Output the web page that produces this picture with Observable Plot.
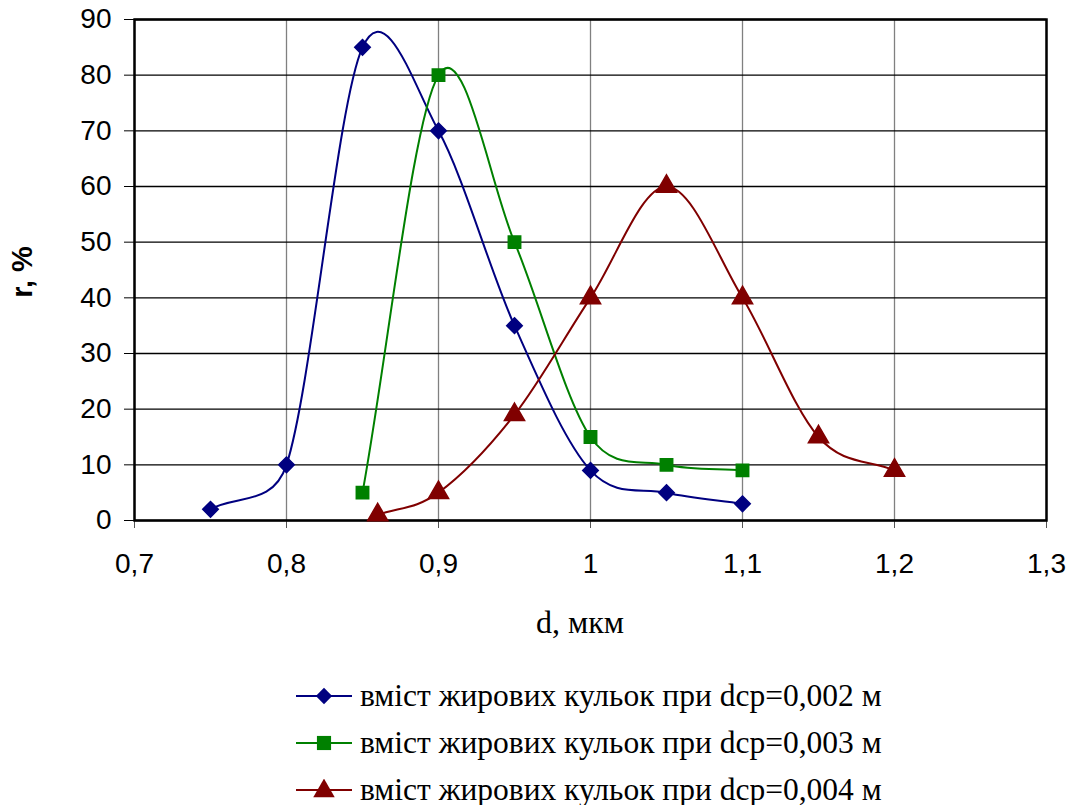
<!DOCTYPE html>
<html>
<head>
<meta charset="utf-8">
<script src="https://cdn.jsdelivr.net/npm/d3@7"></script>
<script src="https://cdn.jsdelivr.net/npm/@observablehq/plot@0.6"></script>
<style>
  body { margin: 0; background: #fff; }
  #chart { width: 1070px; }
  .legend { margin-left: 296px; margin-top: 12px; font-family: "Liberation Serif", "Times New Roman", serif; font-size: 31.5px; color: #000; }
  .legend .row { display: flex; align-items: center; height: 47px; line-height: 47px; white-space: nowrap; }
  .legend svg { margin-right: 8px; flex: none; }
</style>
</head>
<body>
<div id="chart"></div>
<script>
const xValuesBlue = [0.75, 0.8, 0.85, 0.9, 0.95, 1.0, 1.05, 1.1];
const yValuesBlue = [2, 10, 85, 70, 35, 9, 5, 3];
const xValuesGreen = [0.85, 0.9, 0.95, 1.0, 1.05, 1.1];
const yValuesGreen = [5, 80, 50, 15, 10, 9];
const xValuesRed = [0.86, 0.9, 0.95, 1.0, 1.05, 1.1, 1.15, 1.2];
const yValuesRed = [1, 5, 19, 40, 60, 40, 15, 9];
const seriesNames = [
  "вміст жирових кульок при dср=0,002 м",
  "вміст жирових кульок при dср=0,003 м",
  "вміст жирових кульок при dср=0,004 м"
];
const seriesColors = ["#000080", "#008000", "#800000"];
const seriesSymbols = ["diamond2", "square", "triangle"];
const xTicks = [0.7, 0.8, 0.9, 1.0, 1.1, 1.2, 1.3];
const yTicks = [0, 10, 20, 30, 40, 50, 60, 70, 80, 90];
const xLabel = "d, мкм";
const yLabel = "r, %";

const toRows = (xs, ys, s) => xs.map((x, i) => ({x, y: ys[i], s}));
const series = [
  toRows(xValuesBlue, yValuesBlue, 0),
  toRows(xValuesGreen, yValuesGreen, 1),
  toRows(xValuesRed, yValuesRed, 2)
];

const fmt = d => String(+d.toFixed(1)).replace(".", ",");

// Spreadsheet-style smoothed line (Bezier with limited control-point length)
function SmoothCurve(context) { this._context = context; }
SmoothCurve.prototype = {
  areaStart() {}, areaEnd() {},
  lineStart() { this._pts = []; },
  point(x, y) { this._pts.push([+x, +y]); },
  lineEnd() {
    const p = this._pts, n = p.length, c = this._context;
    if (!n) return;
    c.moveTo(p[0][0], p[0][1]);
    if (n === 1) return;
    const dist = (a, b) => Math.hypot(a[0] - b[0], a[1] - b[1]);
    for (let i = 0; i < n - 1; i++) {
      const p0 = p[Math.max(0, i - 1)], p1 = p[i], p2 = p[i + 1], p3 = p[Math.min(n - 1, i + 2)];
      const d12 = dist(p1, p2), d02 = dist(p0, p2), d13 = dist(p1, p3);
      let f1 = (i === 0) ? 1 / 3 : 1 / 6;
      if (d02 * f1 > d12 / 2) f1 = d12 / 2 / d02;
      let f2 = (i === n - 2) ? 1 / 3 : 1 / 6;
      if (d13 * f2 > d12 / 2) f2 = d12 / 2 / d13;
      const c1 = [p1[0] + (p2[0] - p0[0]) * f1, p1[1] + (p2[1] - p0[1]) * f1];
      const c2 = [p2[0] - (p3[0] - p1[0]) * f2, p2[1] - (p3[1] - p1[1]) * f2];
      c.bezierCurveTo(c1[0], c1[1], c2[0], c2[1], p2[0], p2[1]);
    }
  }
};
const smoothCurve = context => new SmoothCurve(context);

const marks = [
  Plot.gridX(xTicks, {stroke: "#808080", strokeOpacity: 1, strokeWidth: 1.3}),
  Plot.gridY(yTicks, {stroke: "#000", strokeOpacity: 1, strokeWidth: 1.3}),
  Plot.axisX(xTicks, {tickFormat: fmt, tickSize: 8, tickPadding: 25, label: null, stroke: "#555", fontSize: 28}),
  Plot.axisY(yTicks, {tickSize: 10, tickPadding: 13, label: null, fontSize: 28}),
  Plot.frame({stroke: "#000", strokeWidth: 2.5})
];
series.forEach((rows, i) => {
  marks.push(Plot.line(rows, {x: "x", y: "y", stroke: seriesColors[i], strokeWidth: 2, curve: smoothCurve}));
  marks.push(Plot.dot(rows, {x: "x", y: "y", fill: seriesColors[i], stroke: seriesColors[i], symbol: seriesSymbols[i], r: i === 2 ? 7.5 : 7}));
});

const plot = Plot.plot({
  width: 1070,
  height: 660,
  marginLeft: 134,
  marginRight: 24,
  marginTop: 19,
  marginBottom: 140,
  x: {domain: [0.7, 1.3]},
  y: {domain: [0, 90]},
  style: {background: "#fff", overflow: "visible", fontSize: "28px", fontFamily: "'Liberation Sans', Arial, sans-serif"},
  marks
});

const svg = d3.select(plot);
svg.append("text")
  .attr("x", 580).attr("y", 633)
  .attr("text-anchor", "middle")
  .style("font-family", "'Liberation Serif', 'Times New Roman', serif")
  .style("font-size", "32px")
  .text(xLabel);
svg.append("text")
  .attr("transform", "translate(32,272) rotate(-90)")
  .attr("text-anchor", "middle")
  .style("font-family", "'Liberation Sans', Arial, sans-serif")
  .style("font-size", "29px")
  .style("font-weight", "bold")
  .text(yLabel);

document.getElementById("chart").appendChild(plot);

const legend = d3.select("#chart").append("div").attr("class", "legend");
seriesNames.forEach((name, i) => {
  const row = legend.append("div").attr("class", "row");
  const s = row.append("svg").attr("width", 56).attr("height", 22);
  s.append("line").attr("x1", 0).attr("x2", 56).attr("y1", 11).attr("y2", 11)
    .attr("stroke", seriesColors[i]).attr("stroke-width", 2);
  const sym = d3.symbol().type([d3.symbolDiamond2, d3.symbolSquare, d3.symbolTriangle][i]).size(i === 0 ? 170 : 200);
  s.append("path").attr("d", sym()).attr("transform", `translate(28,${i === 2 ? 12 : 11})`)
    .attr("fill", seriesColors[i]);
  row.append("span").text(name);
});
</script>
</body>
</html>
